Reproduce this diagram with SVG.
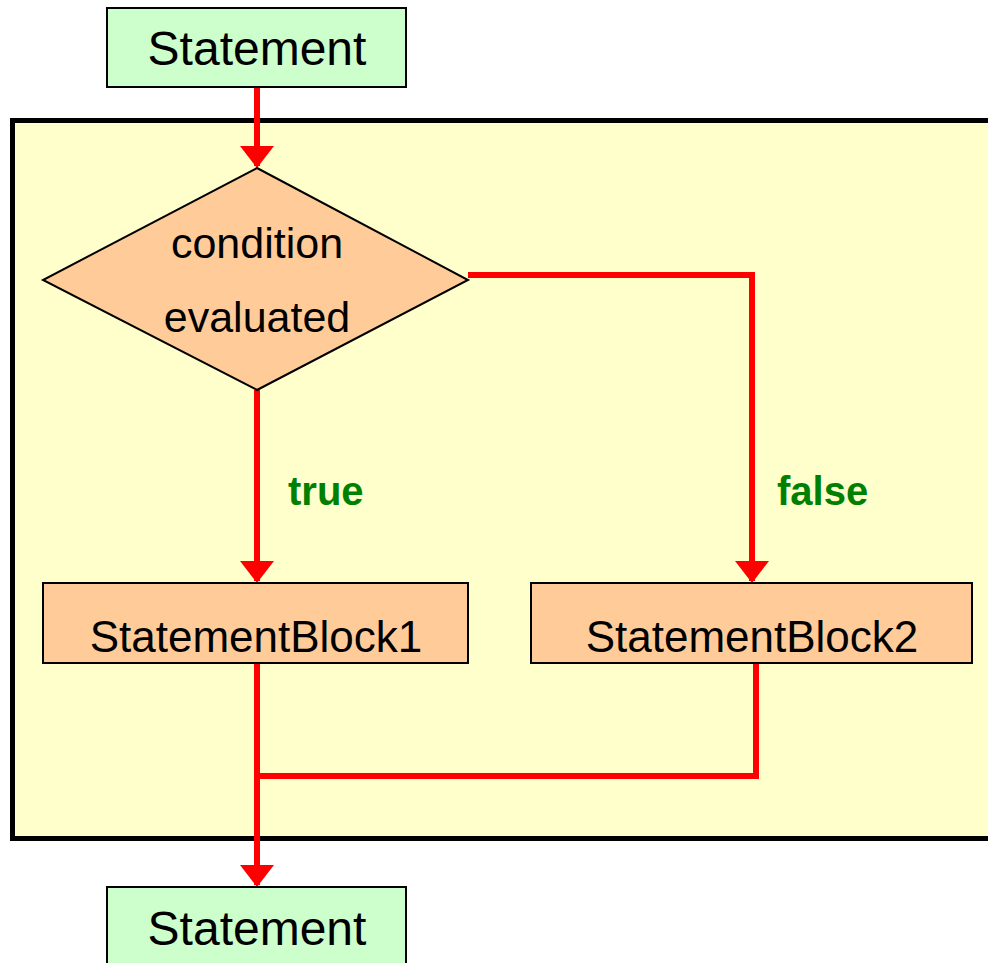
<svg xmlns="http://www.w3.org/2000/svg" width="988" height="963" viewBox="0 0 988 963">
<style>
.stmt{fill:#CCFFCC;stroke:#000;stroke-width:2}
.blk{fill:#FFCC99;stroke:#000;stroke-width:2}
.t{font-family:"Liberation Sans",Arial,sans-serif;fill:#000;text-anchor:middle}
.lbl{font-family:"Liberation Sans",Arial,sans-serif;fill:#008000;font-weight:bold;font-size:40px}
.c{fill:none;stroke:#FF0000;stroke-width:6;stroke-linejoin:miter;stroke-linecap:butt}
</style>
<defs>
<marker id="ah" markerUnits="userSpaceOnUse" markerWidth="22" markerHeight="34" refX="20" refY="17" orient="auto" viewBox="0 0 22 34">
<path d="M0,0 L22,17 L0,34 Z" fill="#FF0000"/>
</marker>
</defs>
<rect x="0" y="0" width="988" height="963" fill="#FFFFFF"/>
<g id="frame">
<rect x="12.5" y="120.5" width="990" height="718" fill="#FFFFCC" stroke="#000" stroke-width="5"/>
</g>
<g id="connectors">
<path class="c" d="M257,87 V166" marker-end="url(#ah)"/>
<path class="c" d="M257,390 V581" marker-end="url(#ah)"/>
<path class="c" d="M468,275 H752 V581" marker-end="url(#ah)"/>
<path class="c" d="M756,663 V776 H257"/>
<path class="c" d="M257,663 V885" marker-end="url(#ah)"/>
</g>
<g id="start">
<rect class="stmt" x="107" y="8" width="299" height="79"/>
<text class="t" x="257" y="65" font-size="48">Statement</text>
</g>
<g id="decision">
<polygon class="blk" points="257,168 468,280 257,390 43,280"/>
<text class="t" x="257" y="258" font-size="43">condition</text>
<text class="t" x="257" y="332" font-size="43">evaluated</text>
</g>
<g id="labels">
<text class="lbl" x="288" y="505">true</text>
<text class="lbl" x="777" y="505">false</text>
</g>
<g id="block1">
<rect class="blk" x="43" y="583" width="425" height="80"/>
<text class="t" x="256" y="652" font-size="44">StatementBlock1</text>
</g>
<g id="block2">
<rect class="blk" x="531" y="583" width="441" height="80"/>
<text class="t" x="752" y="652" font-size="44">StatementBlock2</text>
</g>
<g id="end">
<rect class="stmt" x="107" y="887" width="299" height="90"/>
<text class="t" x="257" y="945" font-size="48">Statement</text>
</g>
</svg>
